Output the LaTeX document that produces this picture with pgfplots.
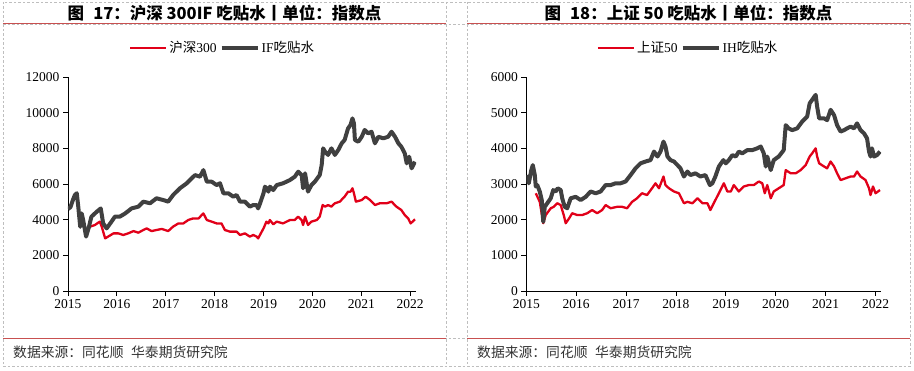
\documentclass[border=0pt]{standalone}
\usepackage{pgfplots}
\pgfplotsset{compat=1.18}
\usepackage{fontspec}
\setmainfont{Liberation Serif}
\newfontfamily\cjk{Noto Sans CJK SC}
\definecolor{hred}{RGB}{225,0,25}
\definecolor{hgray}{RGB}{64,64,64}
\definecolor{sepred}{RGB}{200,80,80}
\definecolor{dashgray}{RGB}{190,190,190}
\pgfplotsset{
  panel/.style={
    scale only axis, width=#1, height=214pt,
    axis x line=bottom, axis y line=left,
    axis line style={-, black, line width=0.8pt},
    tick align=outside, major tick length=5pt,
    tick style={black, line width=0.8pt},
    xtick={2015,2016,...,2022},
    scaled ticks=false,
    /pgf/number format/assume math mode=true,
    /pgf/number format/1000 sep={},
    tick label style={font=\fontsize{13.5}{14}\selectfont},
    ymin=0,
    legend style={draw=none, fill=none, legend columns=-1, inner sep=0pt,
      font=\fontsize{13.5}{14}\selectfont,
      /tikz/every even column/.append style={column sep=1pt},
      nodes={inner sep=2pt}},
    legend image code/.code={\draw[##1] (0pt,0pt) -- (36pt,0pt);},
  }
}
\begin{document}
\begin{tikzpicture}
\useasboundingbox (0pt,0pt) rectangle (914pt,370pt);
% table frame
\begin{scope}[dashgray, dash pattern=on 2.5pt off 2pt, line width=0.6pt]
\draw (3pt,368pt) rectangle (910pt,4pt);
\draw (446pt,368pt) -- (446pt,4pt);
\draw (467pt,368pt) -- (467pt,4pt);
\draw (3pt,346pt) -- (910pt,346pt);
\draw (3pt,32pt) -- (910pt,32pt);
\end{scope}
\draw[sepred, line width=1pt] (3pt,346pt) -- (446pt,346pt);
\draw[sepred, line width=1pt] (467pt,346pt) -- (910pt,346pt);
\draw[sepred, line width=1pt] (3pt,32pt) -- (446pt,32pt);
\draw[sepred, line width=1pt] (467pt,32pt) -- (910pt,32pt);
% titles
\node[font=\cjk\bfseries\fontsize{16.5}{17}\selectfont] at (224.5pt,357pt) {图\hspace{0.55em}17：沪深 300IF 吃贴水丨单位：指数点};
\node[font=\cjk\bfseries\fontsize{16.5}{17}\selectfont] at (688.5pt,357pt) {图\hspace{0.55em}18：上证 50 吃贴水丨单位：指数点};
% footers
\node[anchor=west, text=black!80, font=\cjk\fontsize{13.8}{14}\selectfont, inner sep=0pt] at (13pt,18pt) {数据来源：同花顺\hspace{0.55em}华泰期货研究院};
\node[anchor=west, text=black!80, font=\cjk\fontsize{13.8}{14}\selectfont, inner sep=0pt] at (477pt,18pt) {数据来源：同花顺\hspace{0.55em}华泰期货研究院};

\begin{axis}[panel=348pt, at={(68pt,79pt)}, anchor=south west,
  xmin=2015, xmax=2022.12, ymax=12000, ytick={0,2000,...,12000},
  legend style={at={(0.444,1.1355)}, anchor=center}]
\addplot[hred, line width=2.3pt, line join=round] coordinates {
(2015.38,3330)(2015.45,3610)(2015.55,3700)(2015.65,3890)(2015.69,3610)(2015.76,2950)(2015.82,3050)(2015.93,3230)
(2016.03,3230)(2016.13,3140)(2016.23,3230)(2016.34,3360)(2016.44,3270)(2016.54,3420)(2016.61,3510)(2016.71,3360)
(2016.81,3420)(2016.92,3480)(2017.05,3360)(2017.15,3610)(2017.26,3790)(2017.36,3790)(2017.46,3980)(2017.56,4070)
(2017.67,4070)(2017.77,4350)(2017.84,3980)(2017.94,3890)(2018.04,3790)(2018.14,3790)(2018.21,3420)(2018.31,3330)
(2018.45,3330)(2018.52,3140)(2018.62,3230)(2018.72,3050)(2018.79,3140)(2018.86,3050)(2018.89,2950)(2019.00,3510)
(2019.06,3890)(2019.10,3790)(2019.13,3980)(2019.20,3740)(2019.27,3890)(2019.40,3790)(2019.54,3980)(2019.64,3980)
(2019.71,4170)(2019.78,3980)(2019.81,3700)(2019.85,4170)(2019.91,3700)(2019.98,3890)(2020.09,3980)(2020.15,4170)
(2020.21,4820)(2020.26,4730)(2020.32,4820)(2020.39,4730)(2020.46,4920)(2020.56,5010)(2020.66,5290)(2020.73,5570)
(2020.78,5570)(2020.82,5760)(2020.85,5480)(2020.89,5010)(2021.01,5100)(2021.09,5290)(2021.18,5100)(2021.28,4820)
(2021.38,4920)(2021.52,4920)(2021.62,5010)(2021.72,4730)(2021.82,4540)(2021.89,4260)(2021.96,4070)(2022.01,3790)
(2022.10,4020)
};
\addlegendentry{{\cjk 沪深}300}
\addplot[hgray, line width=4pt, line join=round] coordinates {
(2015.00,4600)(2015.05,4700)(2015.10,5100)(2015.14,5380)(2015.18,5480)(2015.21,4730)(2015.25,3600)(2015.28,4350)
(2015.31,3980)(2015.37,3050)(2015.42,3510)(2015.48,4170)(2015.59,4450)(2015.67,4630)(2015.72,3790)(2015.79,3510)
(2015.89,3890)(2015.96,4170)(2016.06,4170)(2016.17,4350)(2016.30,4630)(2016.44,4730)(2016.54,5010)(2016.68,4920)
(2016.81,5200)(2016.95,5100)(2017.05,5010)(2017.15,5380)(2017.29,5760)(2017.43,6040)(2017.53,6320)(2017.60,6500)
(2017.70,6410)(2017.77,6780)(2017.84,6130)(2017.94,6130)(2018.04,5940)(2018.11,6040)(2018.18,5480)(2018.28,5480)
(2018.38,5290)(2018.45,5380)(2018.52,5010)(2018.62,5010)(2018.72,4730)(2018.79,4820)(2018.86,4820)(2018.89,4630)
(2018.93,4920)(2019.00,5480)(2019.03,5850)(2019.06,5760)(2019.10,5570)(2019.13,5850)(2019.20,5660)(2019.27,5940)
(2019.40,6040)(2019.47,6130)(2019.54,6220)(2019.64,6410)(2019.71,6690)(2019.78,6500)(2019.81,5760)(2019.85,6600)
(2019.91,5570)(2019.98,5940)(2020.05,6130)(2020.15,6500)(2020.19,7060)(2020.22,8000)(2020.26,7810)(2020.32,7630)
(2020.39,8000)(2020.46,7630)(2020.53,7910)(2020.60,8280)(2020.66,8470)(2020.73,9120)(2020.78,9310)(2020.82,9680)
(2020.85,9400)(2020.87,8470)(2020.94,8370)(2021.01,8650)(2021.07,9030)(2021.14,8840)(2021.21,8930)(2021.28,8280)
(2021.35,8650)(2021.45,8560)(2021.55,8650)(2021.62,8930)(2021.69,8650)(2021.76,8280)(2021.82,8090)(2021.89,7720)
(2021.93,7160)(2021.98,7530)(2022.03,6880)(2022.10,7250)
};
\addlegendentry{IF{\cjk 吃贴水}}
\end{axis}

\begin{axis}[panel=354.7pt, at={(526.3pt,79pt)}, anchor=south west,
  xmin=2015, xmax=2022.11, ymax=6000, ytick={0,1000,...,6000},
  legend style={at={(0.456,1.1355)}, anchor=center}]
\addplot[hred, line width=2.3pt, line join=round] coordinates {
(2015.19,2740)(2015.27,2500)(2015.34,1900)(2015.39,2130)(2015.49,2320)(2015.55,2360)(2015.62,2460)(2015.69,2410)
(2015.75,2130)(2015.79,1900)(2015.86,2040)(2015.92,2180)(2016.02,2130)(2016.12,2130)(2016.22,2180)(2016.32,2270)
(2016.42,2180)(2016.52,2270)(2016.59,2410)(2016.69,2320)(2016.82,2360)(2016.92,2360)(2017.02,2320)(2017.12,2500)
(2017.22,2600)(2017.32,2740)(2017.42,2690)(2017.52,2880)(2017.59,3020)(2017.66,2880)(2017.75,3210)(2017.79,2970)
(2017.86,2880)(2017.96,2790)(2018.06,2740)(2018.16,2460)(2018.23,2500)(2018.33,2460)(2018.43,2600)(2018.53,2460)
(2018.63,2460)(2018.69,2270)(2018.79,2550)(2018.86,2740)(2018.96,3020)(2019.03,2790)(2019.10,2790)(2019.16,2970)
(2019.26,2790)(2019.36,2930)(2019.46,2970)(2019.56,2970)(2019.66,3070)(2019.73,3020)(2019.78,2740)(2019.83,2970)
(2019.90,2600)(2019.96,2790)(2020.06,2880)(2020.16,2970)(2020.20,3390)(2020.30,3300)(2020.40,3300)(2020.50,3390)
(2020.60,3530)(2020.68,3770)(2020.73,3860)(2020.80,4000)(2020.83,3770)(2020.87,3580)(2020.97,3490)(2021.03,3440)
(2021.10,3630)(2021.17,3490)(2021.23,3300)(2021.30,3110)(2021.40,3160)(2021.50,3210)(2021.57,3210)(2021.63,3350)
(2021.70,3210)(2021.80,3110)(2021.87,2880)(2021.90,2690)(2021.95,2930)(2022.00,2740)(2022.09,2830)
};
\addlegendentry{{\cjk 上证}50}
\addplot[hgray, line width=4pt, line join=round] coordinates {
(2015.01,3250)(2015.05,3020)(2015.10,3390)(2015.13,3530)(2015.17,3250)(2015.19,2930)(2015.22,2970)(2015.27,2790)
(2015.31,2550)(2015.34,1940)(2015.37,2360)(2015.42,2460)(2015.49,2600)(2015.54,2830)(2015.59,2790)(2015.63,2880)
(2015.69,2830)(2015.72,2600)(2015.77,2360)(2015.82,2320)(2015.89,2600)(2015.99,2640)(2016.09,2550)(2016.19,2640)
(2016.29,2790)(2016.39,2740)(2016.49,2790)(2016.59,2970)(2016.69,2970)(2016.79,3020)(2016.89,3020)(2016.99,3070)
(2017.09,3250)(2017.19,3440)(2017.29,3580)(2017.39,3630)(2017.49,3670)(2017.56,3910)(2017.63,3770)(2017.69,3910)
(2017.75,4190)(2017.79,4050)(2017.83,3770)(2017.89,3670)(2017.96,3630)(2018.03,3530)(2018.09,3440)(2018.16,3210)
(2018.23,3350)(2018.29,3250)(2018.39,3300)(2018.49,3210)(2018.59,3250)(2018.68,2970)(2018.73,3020)(2018.79,3210)
(2018.86,3490)(2018.95,3670)(2019.00,3580)(2019.06,3670)(2019.13,3810)(2019.20,3770)(2019.26,3910)(2019.33,3860)
(2019.43,3950)(2019.53,3950)(2019.63,4000)(2019.70,4050)(2019.76,3860)(2019.80,3490)(2019.83,3770)(2019.90,3390)
(2019.96,3670)(2020.06,3770)(2020.16,3950)(2020.20,4650)(2020.26,4560)(2020.33,4510)(2020.43,4560)(2020.53,4750)
(2020.63,4890)(2020.68,5260)(2020.73,5360)(2020.80,5500)(2020.83,5170)(2020.87,4840)(2020.97,4840)(2021.03,4790)
(2021.10,5080)(2021.17,4930)(2021.23,4650)(2021.30,4470)(2021.37,4510)(2021.43,4560)(2021.50,4610)(2021.57,4560)
(2021.63,4700)(2021.70,4510)(2021.77,4420)(2021.83,4280)(2021.87,3910)(2021.90,3770)(2021.93,4000)(2021.97,3770)
(2022.03,3810)(2022.09,3910)
};
\addlegendentry{IH{\cjk 吃贴水}}
\end{axis}
\end{tikzpicture}
\end{document}
